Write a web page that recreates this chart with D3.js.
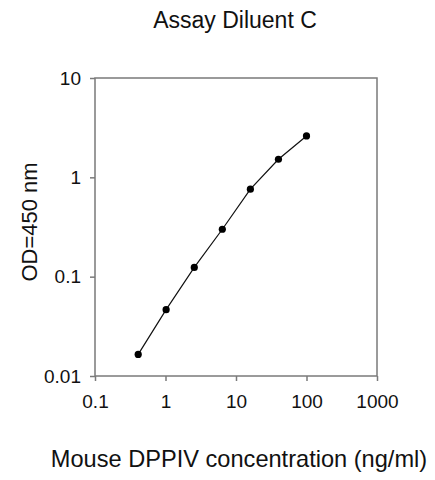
<!DOCTYPE html>
<html lang="en">
	<head>
		<meta charset="utf-8">
		<title>Assay Diluent C</title>
		<script type="text/javascript" src="https://cdn.jsdelivr.net/npm/d3@7"></script>
		<style type="text/css">
			body { margin: 0; background: #fff; }
			text { font-family: "Liberation Sans", Arial, sans-serif; fill: #111; }
		</style>
	</head>
	<body>
		<script type="text/javascript">
			//Width and height
			var w = 435;
			var h = 480;

			//Data
			var concentration = [0.41, 1.02, 2.56, 6.4, 16, 40, 100];
			var od450 = [0.0165, 0.0465, 0.124, 0.30, 0.76, 1.52, 2.61];
			var xTicks = [0.1, 1, 10, 100, 1000];
			var yTicks = [0.01, 0.1, 1, 10];

			//Plot box edges (window.top is taken, so no "top" here)
			var plotL = 95, plotR = 377, plotT = 78, plotB = 376;

			var xScale = d3.scaleLog()
							.domain([0.1, 1000])
							.range([plotL, plotR]);

			var yScale = d3.scaleLog()
							.domain([0.01, 10])
							.range([plotB, plotT]);

			//Create SVG element
			var svg = d3.select("body")
						.append("svg")
						.attr("width", w)
						.attr("height", h);

			//Plot box
			svg.append("rect")
			   .attr("x", plotL)
			   .attr("y", plotT)
			   .attr("width", plotR - plotL)
			   .attr("height", plotB - plotT)
			   .attr("fill", "none")
			   .attr("stroke", "#7a7a7a")
			   .attr("stroke-width", 1.5);

			//Axes
			var xAxis = d3.axisBottom(xScale)
						  .tickValues(xTicks)
						  .tickFormat(d3.format("~g"))
						  .tickSize(5)
						  .tickPadding(14);
			var yAxis = d3.axisLeft(yScale)
						  .tickValues(yTicks)
						  .tickFormat(d3.format("~g"))
						  .tickSize(5)
						  .tickPadding(9);

			var gx = svg.append("g")
			   .attr("transform", "translate(0," + plotB + ")")
			   .call(xAxis);
			var gy = svg.append("g")
			   .attr("transform", "translate(" + plotL + ",0)")
			   .call(yAxis);

			[gx, gy].forEach(function(g) {
				g.attr("font-size", null).attr("font-family", null);
				g.select(".domain").remove();
				g.selectAll(".tick line")
				 .attr("stroke", "#7a7a7a")
				 .attr("stroke-width", 1.5);
				g.selectAll(".tick text")
				 .style("font-size", "19px")
				 .attr("fill", "#111");
			});

			//Line
			var line = d3.line()
						 .x(function(d, i) { return xScale(concentration[i]); })
						 .y(function(d) { return yScale(d); });

			svg.append("path")
			   .datum(od450)
			   .attr("d", line)
			   .attr("fill", "none")
			   .attr("stroke", "#111")
			   .attr("stroke-width", 1.2);

			//Points
			svg.selectAll("circle")
			   .data(od450)
			   .enter()
			   .append("circle")
			   .attr("cx", function(d, i) {
			   		return xScale(concentration[i]);
			   })
			   .attr("cy", function(d) {
			   		return yScale(d);
			   })
			   .attr("r", 3.6)
			   .attr("fill", "#000");

			//Titles
			svg.append("text")
			   .text("Assay Diluent C")
			   .attr("x", 235)
			   .attr("y", 28)
			   .attr("text-anchor", "middle")
			   .style("font-size", "23px");

			svg.append("text")
			   .text("Mouse DPPIV concentration (ng/ml)")
			   .attr("x", 239)
			   .attr("y", 467)
			   .attr("text-anchor", "middle")
			   .style("font-size", "23.6px");

			svg.append("text")
			   .text("OD=450 nm")
			   .attr("transform", "translate(37,222) rotate(-90)")
			   .attr("text-anchor", "middle")
			   .style("font-size", "22px");
		</script>
	</body>
</html>
